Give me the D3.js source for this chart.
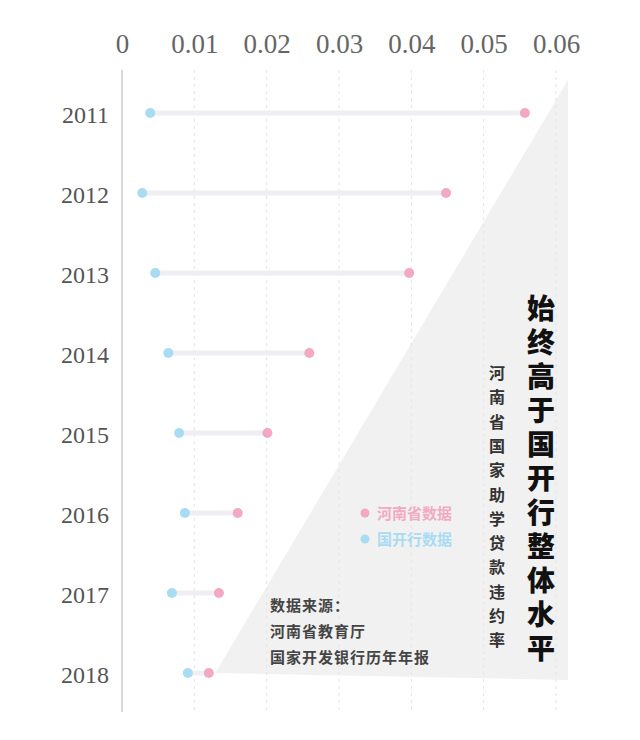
<!DOCTYPE html>
<html><head><meta charset="utf-8">
<script src="https://cdn.jsdelivr.net/npm/d3@7"></script>
<style>body{margin:0;background:#fff}</style>
</head><body>
<script>
var years = ["2011","2012","2013","2014","2015","2016","2017","2018"];
var henan = [0.0557,0.0448,0.0397,0.0259,0.0201,0.0160,0.0134,0.0120];
var guokai = [0.0039,0.0028,0.0046,0.0064,0.0079,0.0087,0.0069,0.0091];
var xTicks = [0,0.01,0.02,0.03,0.04,0.05,0.06];

var pink = "#f2a9c4", blue = "#a9dcf3";
var svg = d3.select("body").append("svg").attr("width",640).attr("height",740);
var x = d3.scaleLinear().domain([0,0.06]).range([122,556]);
var y = d3.scalePoint().domain(years).range([113,673]);

// grey triangle
svg.append("path")
    .attr("d","M"+x(0.0129)+","+y("2018")+"L568,80L568,680Z")
    .attr("fill","#f1f1f1");

// grid
svg.selectAll(".grid").data(xTicks.slice(1)).enter().append("line")
    .attr("x1",d=>x(d)).attr("x2",d=>x(d)).attr("y1",70).attr("y2",710)
    .attr("stroke","#e4e4e4").attr("stroke-dasharray","3,4");
svg.append("line").attr("x1",122).attr("x2",122).attr("y1",70).attr("y2",712)
    .attr("stroke","#ccc").attr("stroke-width",1.5);

var xAxis = svg.append("g").attr("transform","translate(0,56)")
    .call(d3.axisTop(x).tickValues(xTicks).tickSize(0).tickFormat(d=>d===0?"0":d3.format(".2f")(d)));
xAxis.select(".domain").remove();
xAxis.selectAll("text").attr("font-family","Liberation Serif").attr("font-size",27).attr("fill","#666");

var yAxis = svg.append("g").attr("transform","translate(112,0)")
    .call(d3.axisLeft(y).tickSize(0));
yAxis.select(".domain").remove();
yAxis.selectAll("text").attr("font-family","Liberation Serif").attr("font-size",24).attr("fill","#555").attr("dy","0.4em");

var rows = years.map((yr,i)=>({yr:yr,h:henan[i],g:guokai[i]}));
svg.selectAll(".bar").data(rows).enter().append("line")
    .attr("x1",d=>x(d.g)).attr("x2",d=>x(d.h)).attr("y1",d=>y(d.yr)).attr("y2",d=>y(d.yr))
    .attr("stroke","#eeeef3").attr("stroke-width",5);
svg.selectAll(".ph").data(rows).enter().append("circle")
    .attr("cx",d=>x(d.h)).attr("cy",d=>y(d.yr)).attr("r",5).attr("fill",pink);
svg.selectAll(".pg").data(rows).enter().append("circle")
    .attr("cx",d=>x(d.g)).attr("cy",d=>y(d.yr)).attr("r",5).attr("fill",blue);

// legend
var leg = [["河南省数据",pink],["国开行数据",blue]];
leg.forEach(function(l,i){
  svg.append("circle").attr("cx",365).attr("cy",513+i*26).attr("r",4.5).attr("fill",l[1]);
  svg.append("text").attr("x",377).attr("y",519+i*26).text(l[0])
    .attr("font-family","Noto Sans CJK SC").attr("font-size",15).attr("font-weight","bold").attr("fill",l[1]);
});

// source
["数据来源：","河南省教育厅","国家开发银行历年年报"].forEach(function(t,i){
  svg.append("text").attr("x",270).attr("y",611+i*26).text(t)
    .attr("font-family","Noto Sans CJK SC").attr("font-size",15).attr("font-weight","bold").attr("fill","#444")
    .attr("letter-spacing",1);
});

// vertical titles
function vtext(str,cx,top,size,gap,weight,color){
  svg.selectAll(null).data(str.split("")).enter().append("text")
    .attr("x",cx).attr("y",(d,i)=>top+size*0.88+i*(size+gap)).attr("text-anchor","middle")
    .attr("font-family","Noto Sans CJK SC").attr("font-size",size).attr("font-weight",weight)
    .attr("fill",color).text(d=>d);
}
vtext("始终高于国开行整体水平",541,294,28,6,"900","#111");
vtext("河南省国家助学贷款违约率",497,365,16,8.3,"bold","#333");
</script>
</body></html>
